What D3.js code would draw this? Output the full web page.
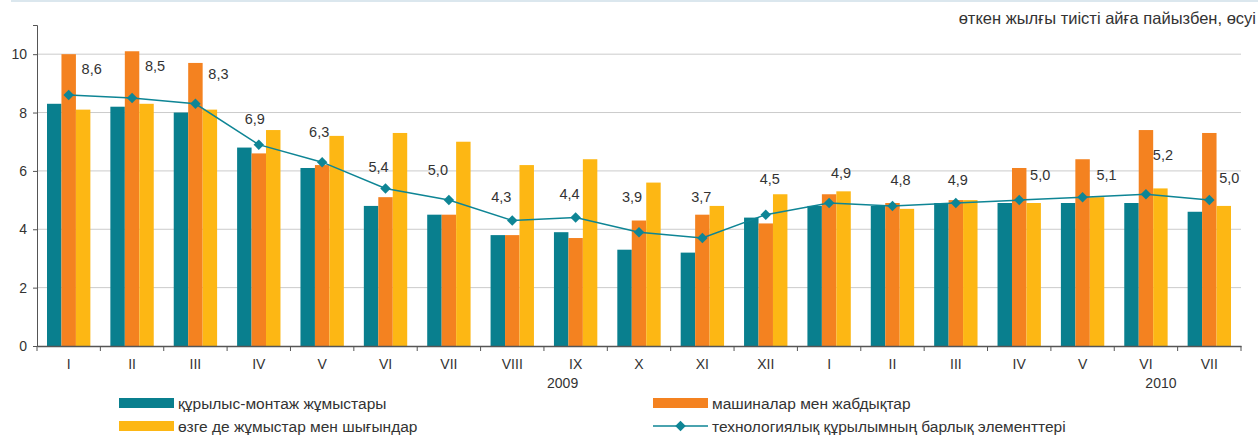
<!DOCTYPE html>
<html>
<head>
<meta charset="utf-8">
<script src="https://cdn.jsdelivr.net/npm/d3@7"></script>
<style>
  body { margin: 0; background: #fff; }
  svg text { font-family: "Liberation Sans", Arial, sans-serif; fill: #333; }
</style>
</head>
<body>
<script>
const months = ["I", "II", "III", "IV", "V", "VI", "VII", "VIII", "IX", "X", "XI", "XII",
    "I", "II", "III", "IV", "V", "VI", "VII"];
const seriesNames = ["құрылыс-монтаж жұмыстары", "машиналар мен жабдықтар", "өзге де жұмыстар мен шығындар"];
const lineName = "технологиялық құрылымның барлық элементтері";
const construction = [8.3, 8.2, 8.0, 6.8, 6.1, 4.8, 4.5, 3.8, 3.9, 3.3, 3.2, 4.4, 4.8, 4.8, 4.9, 4.9, 4.9, 4.9, 4.6];
const machinery = [10.0, 10.1, 9.7, 6.6, 6.2, 5.1, 4.5, 3.8, 3.7, 4.3, 4.5, 4.2, 5.2, 4.9, 5.0, 6.1, 6.4, 7.4, 7.3];
const other = [8.1, 8.3, 8.1, 7.4, 7.2, 7.3, 7.0, 6.2, 6.4, 5.6, 4.8, 5.2, 5.3, 4.7, 5.0, 4.9, 5.1, 5.4, 4.8];
const total = [8.6, 8.5, 8.3, 6.9, 6.3, 5.4, 5.0, 4.3, 4.4, 3.9, 3.7, 4.5, 4.9, 4.8, 4.9, 5.0, 5.1, 5.2, 5.0];
const yTicks = [0, 2, 4, 6, 8, 10];
const years = [{label: "2009", at: 8, dx: -13}, {label: "2010", at: 17, dx: 15}];

// label offsets from the markers (as placed in the original)
const labelOffsets = [[23, -26], [23, -32], [23, -30], [-4, -26], [-3, -30], [-7, -21], [-11, -30],
    [-11, -24], [-6, -24], [-7, -35], [-1, -41], [4, -36], [12, -30], [8, -26], [2, -23],
    [21, -25], [24, -22], [17, -39], [20, -22]];

const width = 1258, height = 436;
const marginLeft = 37, marginRight = 17, marginTop = 25, marginBottom = 90;
const colors = ["#097f8e", "#f48220", "#fdb714"];
const lineColor = "#0e8595";

const idx = d3.range(months.length);
const x = d3.scaleBand().domain(idx).range([marginLeft, width - marginRight]).padding(0);
const x1 = d3.scaleBand().domain([0, 1, 2]).range([10, x.bandwidth() - 10]);
const y = d3.scaleLinear().domain([0, 11]).range([height - marginBottom, marginTop]);

const svg = d3.create("svg")
    .attr("width", width)
    .attr("height", height)
    .attr("viewBox", `0 0 ${width} ${height}`);

// top frame line
svg.append("line")
    .attr("x1", 11).attr("x2", width).attr("y1", 1).attr("y2", 1)
    .attr("stroke", "#dbe7ee").attr("stroke-width", 2);

// gridlines
svg.append("g")
    .selectAll("line")
    .data(yTicks.filter(d => d > 0))
    .join("line")
    .attr("x1", marginLeft).attr("x2", width - marginRight)
    .attr("y1", d => y(d)).attr("y2", d => y(d))
    .attr("stroke", "#cbcbcb").attr("stroke-width", 1);

// bars
const groups = svg.append("g")
    .selectAll("g")
    .data(idx)
    .join("g")
    .attr("transform", i => `translate(${x(i)},0)`);

groups.selectAll("rect")
    .data(i => [construction[i], machinery[i], other[i]])
    .join("rect")
    .attr("x", (d, j) => x1(j))
    .attr("width", x1.bandwidth())
    .attr("y", d => y(d))
    .attr("height", d => y(0) - y(d))
    .attr("fill", (d, j) => colors[j]);

// axes
const yAxis = svg.append("g")
    .attr("transform", `translate(${marginLeft},0)`)
    .call(d3.axisLeft(y).tickValues(yTicks).tickSize(4).tickPadding(6));
yAxis.select(".domain").attr("stroke", "#555");
yAxis.selectAll(".tick line").attr("stroke", "#555");
yAxis.selectAll("text").style("font-size", "14px").attr("fill", "#333");

const xAxis = svg.append("g")
    .attr("transform", `translate(0,${y(0)})`)
    .call(d3.axisBottom(x).tickSize(0).tickFormat(i => months[i]).tickPadding(13));
xAxis.select(".domain").attr("stroke", "#555").attr("stroke-width", 1.5);
xAxis.selectAll("text").style("font-size", "14px").attr("fill", "#333");

svg.append("g")
    .selectAll("line")
    .data(d3.range(months.length + 1))
    .join("line")
    .attr("x1", i => i < months.length ? x(i) : x(i - 1) + x.bandwidth())
    .attr("x2", i => i < months.length ? x(i) : x(i - 1) + x.bandwidth())
    .attr("y1", y(0)).attr("y2", y(0) + 5)
    .attr("stroke", "#555");

svg.append("g")
    .selectAll("text")
    .data(years)
    .join("text")
    .attr("x", d => x(d.at) + x.bandwidth() / 2 + d.dx)
    .attr("y", y(0) + 42)
    .attr("text-anchor", "middle")
    .style("font-size", "14px")
    .text(d => d.label);

// line + markers
const cx = i => x(i) + x.bandwidth() / 2;
svg.append("path")
    .datum(idx)
    .attr("fill", "none")
    .attr("stroke", lineColor)
    .attr("stroke-width", 1.5)
    .attr("d", d3.line().x(i => cx(i)).y(i => y(total[i])));

const diamond = d3.symbol().type(d3.symbolDiamond2).size(70);
svg.append("g")
    .selectAll("path")
    .data(idx)
    .join("path")
    .attr("transform", i => `translate(${cx(i)},${y(total[i])})`)
    .attr("d", diamond)
    .attr("fill", lineColor);

svg.append("g")
    .selectAll("text")
    .data(idx)
    .join("text")
    .attr("x", i => cx(i) + labelOffsets[i][0])
    .attr("y", i => y(total[i]) + labelOffsets[i][1])
    .attr("text-anchor", "middle")
    .attr("dominant-baseline", "central")
    .style("font-size", "14.5px")
    .text(i => total[i].toFixed(1).replace(".", ","));

// title
svg.append("text")
    .attr("x", width - 2)
    .attr("y", 18)
    .attr("text-anchor", "end")
    .attr("dominant-baseline", "central")
    .style("font-size", "16.5px")
    .text("өткен жылғы тиісті айға пайызбен, өсуі");

// legend
const legendItems = [
    {name: seriesNames[0], type: "bar", color: colors[0], lx: 119, ly: 403},
    {name: seriesNames[1], type: "bar", color: colors[1], lx: 653, ly: 403},
    {name: seriesNames[2], type: "bar", color: colors[2], lx: 119, ly: 426},
    {name: lineName, type: "line", color: lineColor, lx: 653, ly: 426}
];
const legend = svg.append("g")
    .selectAll("g")
    .data(legendItems)
    .join("g")
    .attr("transform", d => `translate(${d.lx},${d.ly})`);

legend.each(function(d) {
    const g = d3.select(this);
    if (d.type === "bar") {
        g.append("rect").attr("x", 0).attr("y", -5).attr("width", 55).attr("height", 10).attr("fill", d.color);
    } else {
        g.append("line").attr("x1", 0).attr("x2", 55).attr("y1", 0).attr("y2", 0)
            .attr("stroke", d.color).attr("stroke-width", 1.5);
        g.append("path").attr("transform", "translate(27.5,0)").attr("d", diamond).attr("fill", d.color);
    }
    g.append("text")
        .attr("x", 59)
        .attr("y", 0.5)
        .attr("dominant-baseline", "central")
        .style("font-size", "15.5px")
        .text(d.name);
});

document.body.appendChild(svg.node());
</script>
</body>
</html>
